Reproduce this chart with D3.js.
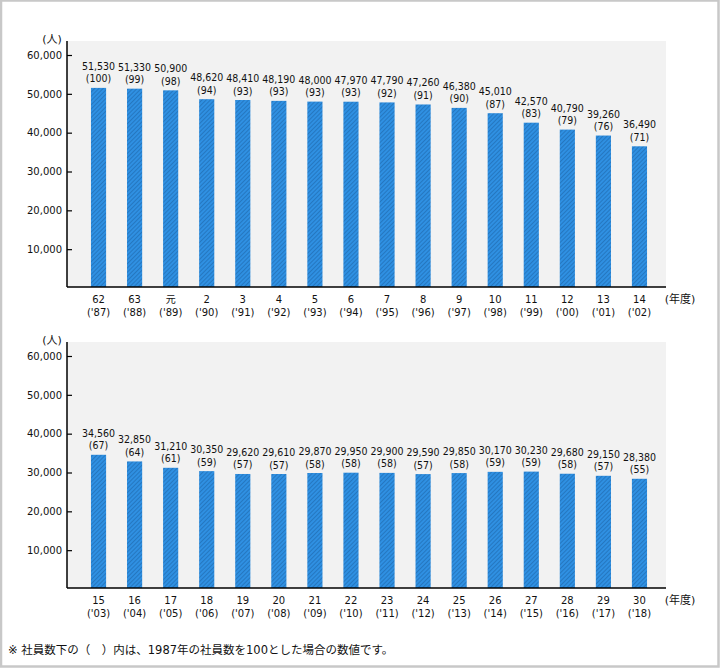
<!DOCTYPE html>
<html>
<head>
<meta charset="utf-8">
<script src="https://cdn.jsdelivr.net/npm/d3@7"></script>
<style>
  body { margin: 0; background: #fff; }
  svg text { font-family: "DejaVu Sans", "Noto Sans CJK JP", sans-serif; fill: #111; }
  svg text.val, svg text.idx { font-family: "DejaVu Sans Condensed", "DejaVu Sans", sans-serif; }
</style>
</head>
<body>
<div id="canvas"></div>
<script>
const erasTop = ['62','63','元','2','3','4','5','6','7','8','9','10','11','12','13','14'];
const yearsTop = ["'87","'88","'89","'90","'91","'92","'93","'94","'95","'96","'97","'98","'99","'00","'01","'02"];
const valuesTop = [51530,51330,50900,48620,48410,48190,48000,47970,47790,47260,46380,45010,42570,40790,39260,36490];
const indexTop = [100,99,98,94,93,93,93,93,92,91,90,87,83,79,76,71];

const erasBottom = ['15','16','17','18','19','20','21','22','23','24','25','26','27','28','29','30'];
const yearsBottom = ["'03","'04","'05","'06","'07","'08","'09","'10","'11","'12","'13","'14","'15","'16","'17","'18"];
const valuesBottom = [34560,32850,31210,30350,29620,29610,29870,29950,29900,29590,29850,30170,30230,29680,29150,28380];
const indexBottom = [67,64,61,59,57,57,58,58,58,57,58,59,59,58,57,55];

const yTicks = [10000,20000,30000,40000,50000,60000];

const W = 720, H = 668;
const CJK = '"Noto Sans CJK JP", sans-serif';
const svg = d3.select("#canvas").append("svg").attr("width", W).attr("height", H);

svg.append("rect").attr("x", 1).attr("y", 0.5).attr("width", W - 2.5).attr("height", H - 2)
  .attr("fill", "#fff").attr("stroke", "#c8c8c8").attr("stroke-width", 2.5);

const defs = svg.append("defs");
const pat = defs.append("pattern").attr("id", "hatch").attr("patternUnits", "userSpaceOnUse")
  .attr("width", 3).attr("height", 3).attr("patternTransform", "rotate(45)");
pat.append("rect").attr("width", 3).attr("height", 3).attr("fill", "#2f90e2");
pat.append("line").attr("x1", 0).attr("y1", 0).attr("x2", 0).attr("y2", 3)
  .attr("stroke", "#1b5e9e").attr("stroke-width", 1);

const fmt = d3.format(",");

const drawChart = (top, eras, years, values, idx) => {
  const g = svg.append("g").attr("transform", `translate(0, ${top})`);
  const x0 = 67, x1 = 666, yTop = 41, yBase = 287;
  const x = d3.scaleBand().domain(eras).range([80.5, 657.5]).paddingInner(0.58).paddingOuter(0.29);
  const y = d3.scaleLinear().domain([0, 60000]).range([yBase + 1, 55]);

  g.append("rect").attr("x", x0).attr("y", yTop).attr("width", x1 - x0).attr("height", yBase - yTop)
    .attr("fill", "#f2f2f2");

  g.selectAll("rect.bar").data(values).enter().append("rect").attr("class", "bar")
    .attr("x", (d, i) => x(eras[i]))
    .attr("width", x.bandwidth())
    .attr("y", d => y(d))
    .attr("height", d => yBase - y(d))
    .attr("fill", "url(#hatch)");

  g.selectAll("text.val").data(values).enter().append("text").attr("class", "val")
    .attr("x", (d, i) => x(eras[i]) + x.bandwidth() / 2)
    .attr("y", d => y(d) - 18)
    .attr("text-anchor", "middle").attr("font-size", 10.5)
    .text(d => fmt(d));
  g.selectAll("text.idx").data(idx).enter().append("text").attr("class", "idx")
    .attr("x", (d, i) => x(eras[i]) + x.bandwidth() / 2)
    .attr("y", (d, i) => y(values[i]) - 5.5)
    .attr("text-anchor", "middle").attr("font-size", 10.5)
    .text(d => `(${d})`);

  const yAxis = d3.axisLeft(y).tickValues(yTicks).tickFormat(fmt).tickSize(-5).tickPadding(5);
  const ya = g.append("g").attr("transform", `translate(${x0}, 0)`).call(yAxis);
  ya.select(".domain").remove();
  ya.selectAll("line").attr("stroke", "#000").attr("stroke-width", 1.2);
  ya.selectAll("text").attr("font-size", 10).attr("font-family", '"DejaVu Sans", sans-serif').attr("fill", "#111");

  g.append("line").attr("x1", x0).attr("x2", x0).attr("y1", yTop).attr("y2", yBase)
    .attr("stroke", "#000").attr("stroke-width", 1.5);
  g.append("line").attr("x1", x0).attr("x2", x1).attr("y1", yBase).attr("y2", yBase)
    .attr("stroke", "#000").attr("stroke-width", 1.5);

  const lab = g.selectAll("g.cat").data(eras).enter().append("g").attr("class", "cat")
    .attr("transform", d => `translate(${x(d) + x.bandwidth() / 2}, 0)`);
  lab.append("text").attr("y", 303).attr("text-anchor", "middle").attr("font-size", 10).text(d => d);
  lab.append("text").attr("y", 316).attr("text-anchor", "middle").attr("font-size", 10)
    .text((d, i) => `(${years[i]})`);

  g.append("text").attr("x", 680).attr("y", 303).attr("text-anchor", "middle").attr("font-size", 11)
    .attr("font-family", CJK).text("(年度)");
  g.append("text").attr("x", 52).attr("y", 43).attr("text-anchor", "middle").attr("font-size", 11)
    .attr("font-family", CJK).text("(人)");
};

drawChart(0, erasTop, yearsTop, valuesTop, indexTop);
drawChart(301, erasBottom, yearsBottom, valuesBottom, indexBottom);

svg.append("text").attr("x", 8).attr("y", 654).attr("font-size", 11.5).attr("font-family", CJK)
  .text("※ 社員数下の（　）内は、1987年の社員数を100とした場合の数値です。");
</script>
</body>
</html>
